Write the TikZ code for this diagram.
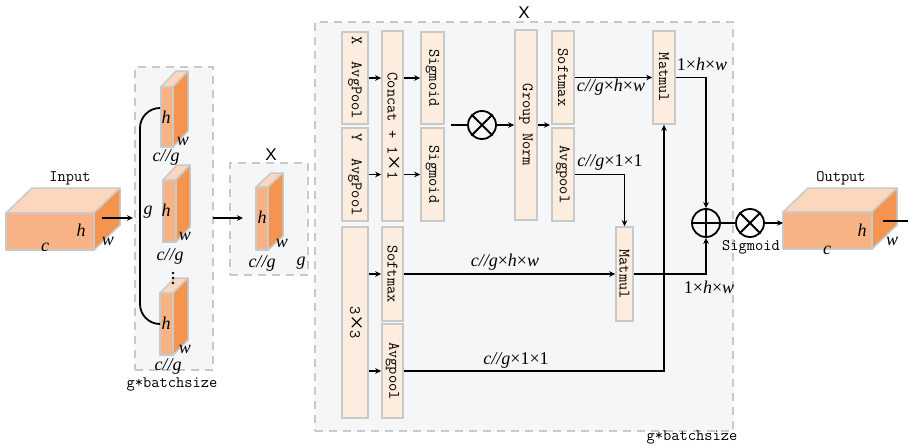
\documentclass[tikz,border=0pt]{standalone}
\usepackage{fontspec}
\usepackage{graphicx}
\setmainfont{Liberation Serif}
\newfontfamily\xsans{Liberation Sans}
\definecolor{frontc}{HTML}{F7B386}
\definecolor{topc}{HTML}{FCD6BD}
\definecolor{sidec}{HTML}{F5944E}
\definecolor{edgec}{HTML}{C9C9C9}
\definecolor{boxc}{HTML}{FDEDDE}
\definecolor{panelc}{HTML}{F4F6F8}
\newcommand{\cuboid}[6]{%
  \filldraw[cubeface,fill=topc] (#1,#2)--({#1+#5},{#2-#6})--({#3+#5},{#2-#6})--(#3,#2)--cycle;
  \filldraw[cubeface,fill=sidec] (#3,#2)--({#3+#5},{#2-#6})--({#3+#5},{#4-#6})--(#3,#4)--cycle;
  \filldraw[cubeface,fill=frontc] (#1,#2) rectangle (#3,#4);}
\newcommand{\tmul}{\makebox[16pt]{\raisebox{-2pt}{\rmfamily\fontsize{26}{26}\selectfont ×}}}
\newcommand{\vlab}[1]{\rotatebox{-90}{#1}}
\tikzset{
  cubeface/.style={draw=edgec,line width=1.5pt,line join=round},
  panel/.style={draw=edgec,fill=panelc,line width=1.5pt,dash pattern=on 8pt off 6pt},
  opbox/.style={draw=edgec,fill=boxc,line width=1.6pt,inner sep=0pt,font=\ttfamily\fontsize{16}{18}\selectfont},
  mono/.style={inner sep=0pt,font=\ttfamily\fontsize{16}{18}\selectfont},
  ital/.style={inner sep=0pt,font=\itshape\fontsize{18}{20}\selectfont},
  xmark/.style={inner sep=0pt,font=\xsans\fontsize{17}{18}\selectfont},
  conn/.style={line width=1.6pt,black},
  arr/.style={conn,-{Stealth[length=6pt,width=5.5pt]}},
  oper/.style={circle,draw=black,line width=1.8pt,minimum size=28pt,inner sep=0pt}
}
\usetikzlibrary{arrows.meta}
\begin{document}
\begin{tikzpicture}[x=1pt,y=-1pt]
\useasboundingbox (0,0) rectangle (908,447);
% panels
\node[panel,minimum width=78pt,minimum height=303pt,inner sep=0pt] (pA) at (174,218.5) {};
\node[panel,minimum width=78pt,minimum height=112pt,inner sep=0pt] (pB) at (269,219) {};
\node[panel,minimum width=418pt,minimum height=409pt,inner sep=0pt] (pC) at (524,226.5) {};
% cuboids
\cuboid{6}{213}{94}{250}{26}{25}
\cuboid{161}{87}{173}{147}{15}{16}
\cuboid{163}{180}{176}{242}{14}{15}
\cuboid{160}{293}{173}{355}{15}{15}
\cuboid{256}{187}{268}{250}{15}{14}
\cuboid{783}{212}{872}{249}{25}{24}
% input labels
\node[mono] (tIn) at (70,178) {Input};
\node[ital] (i1) at (81,230) {h};
\node[ital] (i2) at (45,247) {c};
\node[ital] (i3) at (108,241) {w};
\coordinate (inOut) at (102,218);
\coordinate (aIn) at (133,218);
\coordinate (aOut) at (213,218);
\coordinate (bIn) at (243,218);
\draw[arr] (inOut) -- (aIn);
\draw[arr] (aOut) -- (bIn);
% group of slabs
\coordinate (br1) at (159,108);
\coordinate (br2) at (140,108);
\coordinate (br3) at (140,324);
\coordinate (br4) at (159,324);
\draw[line width=1.8pt,rounded corners=20pt] (br1) -- (br2) -- (br3) -- (br4);
\node[ital] (gA) at (148,212) {g};
\node[ital] (s1h) at (166,117) {h};
\node[ital] (s1w) at (183,141) {w};
\node[ital] (s1c) at (166,157) {c//g};
\node[ital] (s2h) at (166,210) {h};
\node[ital] (s2w) at (185,236) {w};
\node[ital] (s2c) at (170,256) {c//g};
\node[ital] (s3h) at (166,323) {h};
\node[ital] (s3w) at (185,349) {w};
\node[ital] (s3c) at (168,366) {c//g};
\fill (173,273) circle (1.3pt) (173,278) circle (1.3pt) (173,283) circle (1.3pt);
\node[mono] (tA) at (172,384) {g*batchsize};
% X slab
\node[xmark] (xA) at (271,155) {X};
\node[ital] (s4h) at (262,217) {h};
\node[ital] (s4w) at (282,243) {w};
\node[ital] (s4c) at (262,263) {c//g};
\node[ital] (s4g) at (301,263) {g};
% main panel
\node[xmark] (xB) at (524,13) {X};
\node[mono] (tC) at (692,437) {g*batchsize};
\node[opbox,minimum width=26pt,minimum height=92pt] (xavg) at (355,78) {\vlab{X\ \ AvgPool}};
\node[opbox,minimum width=26pt,minimum height=93pt] (yavg) at (355,174.5) {\vlab{Y\ \ AvgPool}};
\node[opbox,minimum width=21pt,minimum height=190pt] (concat) at (392.5,126) {\vlab{Concat + 1\tmul 1}};
\node[opbox,minimum width=23pt,minimum height=92pt] (sig1) at (432.5,78) {\vlab{Sigmoid}};
\node[opbox,minimum width=23pt,minimum height=93pt] (sig2) at (432.5,174.5) {\vlab{Sigmoid}};
\node[oper] (otA) at (482,125) {};
\draw[line width=1.8pt] (otA.north west) -- (otA.south east) (otA.north east) -- (otA.south west);
\node[opbox,minimum width=22pt,minimum height=190pt] (gnorm) at (526,125) {\vlab{Group Norm}};
\node[opbox,minimum width=22pt,minimum height=93pt] (soft1) at (563,77.5) {\vlab{Softmax}};
\node[opbox,minimum width=22pt,minimum height=93pt] (avg1) at (563,174.5) {\vlab{Avgpool}};
\node[opbox,minimum width=22pt,minimum height=93pt] (mat1) at (664,77.5) {\vlab{Matmul}};
\node[opbox,minimum width=17pt,minimum height=94pt] (mat2) at (624.5,274) {\vlab{Matmul}};
\node[opbox,minimum width=26pt,minimum height=191pt] (conv) at (355,322.5) {\vlab{3\tmul 3}};
\node[opbox,minimum width=21pt,minimum height=94pt] (soft2) at (392.5,274) {\vlab{Softmax}};
\node[opbox,minimum width=21pt,minimum height=94pt] (avg2) at (392.5,371) {\vlab{Avgpool}};
\node[oper] (plus) at (706,223) {};
\draw[line width=1.8pt] (plus.west) -- (plus.east);
\node[oper] (otB) at (750,223) {};
\draw[line width=1.8pt] (otB.north west) -- (otB.south east) (otB.north east) -- (otB.south west);
% connectors
\draw[arr] (xavg.east) -- (xavg.east -| concat.west);
\draw[arr] (yavg.east) -- (yavg.east -| concat.west);
\draw[arr] (sig1.west -| concat.east) -- (sig1.west);
\draw[arr] (sig2.west -| concat.east) -- (sig2.west);
\coordinate (otIn) at (451,125);
\draw[conn] (otIn) -- (otA.west);
\draw[arr] (otA.east) -- (gnorm.west |- otA.east);
\coordinate (gnOut) at (550,125);
\draw[arr] (gnorm.east |- gnOut) -- (gnOut);
\draw[arr] (soft1.east |- mat1.west) -- (mat1.west);
\coordinate (bend1) at (624.5,174.5);
\draw[arr] (avg1.east) -- (bend1) -- (mat2.north);
\draw[arr] (conv.east |- soft2.west) -- (soft2.west);
\draw[arr] (conv.east |- avg2.west) -- (avg2.west);
\draw[arr] (soft2.east) -- (mat2.west);
\coordinate (bend2) at (664,371);
\draw[arr] (avg2.east) -- (bend2) -- (mat1.south);
\draw[arr] (mat1.east) -| (plus.north);
\draw[conn] (plus.north) -- (plus.south);
\draw[arr] (mat2.east) -| (plus.south);
\draw[conn] (plus.east) -- (otB.west);
\coordinate (outIn) at (783,223);
\draw[arr] (otB.east) -- (outIn);
\coordinate (outA) at (883,221);
\coordinate (outB) at (908,221);
\draw[conn] (outA) -- (outB);
% edge labels
\node[ital,font=\fontsize{18}{20}\selectfont] (e1) at (702,64) {1×\textit{h}×\textit{w}};
\node[ital] (e2) at (611,87) {c//g\textup{×}h\textup{×}w};
\node[ital] (e3) at (610,162) {c//g\textup{×1×1}};
\node[ital] (e4) at (505,262) {c//g\textup{×}h\textup{×}w};
\node[ital] (e5) at (516,360) {c//g\textup{×1×1}};
\node[ital,font=\fontsize{18}{20}\selectfont] (e6) at (709,287) {1×\textit{h}×\textit{w}};
\node[mono] (tSig) at (751,247) {Sigmoid};
\node[mono] (tOut) at (841,178) {Output};
\node[ital] (o1) at (862,230) {h};
\node[ital] (o2) at (827,250) {c};
\node[ital] (o3) at (892,241) {w};
\end{tikzpicture}
\end{document}
